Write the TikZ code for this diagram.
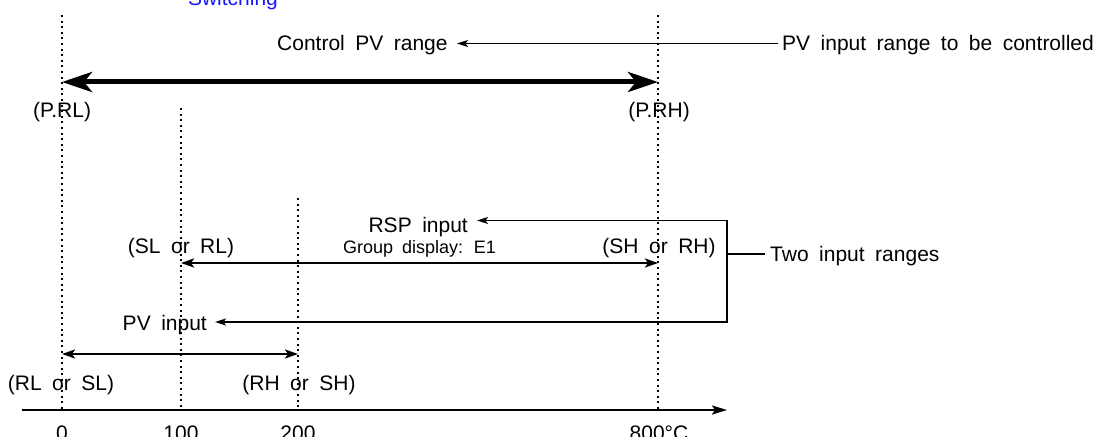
\documentclass[tikz,border=0pt]{standalone}
\usepackage{fontspec}
\setmainfont[WordSpace=1.8]{Liberation Sans}
\usetikzlibrary{arrows.meta}
\definecolor{swblue}{RGB}{25,25,255}
\tikzset{
  lbl/.style={inner sep=0pt, font=\fontsize{21bp}{25bp}\selectfont},
  smalllbl/.style={inner sep=0pt, font=\fontsize{18bp}{22bp}\selectfont},
  dotline/.style={line width=1.2bp, dash pattern=on 2bp off 3.6bp},
  thinline/.style={line width=1.3bp},
  thinarrow/.style={line width=1.3bp, -{Stealth[length=11bp,width=7bp,inset=2.5bp]}},
  bracketarrow/.style={line width=1.3bp, {Stealth[length=11bp,width=7bp,inset=2.5bp]}-{Stealth[length=11bp,width=7bp,inset=2.5bp]}},
  thickarrow/.style={line width=5bp, {Stealth[length=30bp,width=20bp,inset=8bp]}-{Stealth[length=30bp,width=20bp,inset=8bp]}},
  medarrow/.style={line width=2.4bp, {Stealth[length=13bp,width=9bp,inset=3bp]}-{Stealth[length=13bp,width=9bp,inset=3bp]}},
  axisarrow/.style={line width=2bp, -{Stealth[length=15bp,width=9bp,inset=3bp]}}
}
\begin{document}
\begin{tikzpicture}[x=1bp,y=-1bp]
\useasboundingbox (0,0) rectangle (1098,437);
\clip (0,0) rectangle (1098,437);
% dotted guide lines
\coordinate (d0t) at (62,15);   \coordinate (d0b) at (62,410);
\coordinate (d1t) at (181,108); \coordinate (d1b) at (181,410);
\coordinate (d2t) at (298,198); \coordinate (d2b) at (298,410);
\coordinate (d8t) at (658,15);  \coordinate (d8b) at (658,410);
\draw[dotline] (d0t) -- (d0b);
\draw[dotline] (d1t) -- (d1b);
\draw[dotline] (d2t) -- (d2b);
\draw[dotline] (d8t) -- (d8b);
% top
\node[lbl, anchor=base, text=swblue] (sw) at (233,5.5) {Switching};
\node[lbl, anchor=base west] (cpv) at (277,51) {Control PV range};
\node[lbl, anchor=base west] (pvr) at (782,51) {PV input range to be controlled};
\coordinate (cpvtip) at (457,43.5);
\coordinate (pvrend) at (778,43.5);
\draw[thinarrow] (pvrend) -- (cpvtip);
\coordinate (prlpt) at (62,82);
\coordinate (prhpt) at (658,82);
\draw[thickarrow] (prlpt) -- (prhpt);
\node[lbl, anchor=base] (prl) at (62,117.5) {(P.RL)};
\node[lbl, anchor=base] (prh) at (659,117.5) {(P.RH)};
% RSP input
\node[lbl, anchor=base east] (rsp) at (468,232.5) {RSP input};
\node[smalllbl, anchor=base west] (grp) at (343,253.5) {Group display: E1};
\node[lbl, anchor=base] (slrl) at (181,254) {(SL or RL)};
\node[lbl, anchor=base] (shrh) at (659,254) {(SH or RH)};
\coordinate (slpt) at (181,263);
\coordinate (shpt) at (658,263);
\draw[medarrow] (slpt) -- (shpt);
% bracket
\coordinate (rsptip) at (477,220.5);
\coordinate (boxtr) at (727,220.5);
\coordinate (boxbr) at (727,322);
\coordinate (pvtip) at (215,322);
\draw[bracketarrow] (rsptip) -- (boxtr) -- (boxbr) -- (pvtip);
\coordinate (boxmid) at (727,254);
\coordinate (tirend) at (765,254);
\draw[thinline] (boxmid) -- (tirend);
\node[lbl, anchor=base west] (tir) at (770,261.5) {Two input ranges};
% PV input
\node[lbl, anchor=base east] (pvin) at (207,330.5) {PV input};
\coordinate (rlpt) at (62,354);
\coordinate (rhpt) at (298,354);
\draw[medarrow] (rlpt) -- (rhpt);
\node[lbl, anchor=base] (rlsl) at (61,390.5) {(RL or SL)};
\node[lbl, anchor=base] (rhsh) at (299,390.5) {(RH or SH)};
% axis
\coordinate (axs) at (22,410);
\coordinate (axe) at (727,410);
\draw[axisarrow] (axs) -- (axe);
\node[lbl, anchor=base] (n0) at (62,440) {0};
\node[lbl, anchor=base] (n100) at (181,440) {100};
\node[lbl, anchor=base] (n200) at (298,440) {200};
\node[lbl, anchor=base] (n800) at (659,440) {800°C};
\end{tikzpicture}
\end{document}
